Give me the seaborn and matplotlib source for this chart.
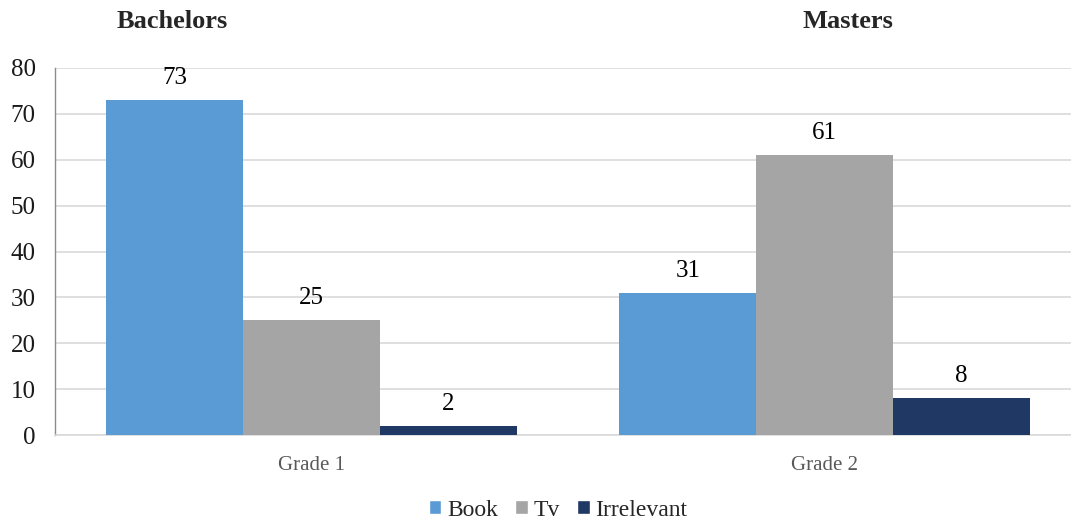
import matplotlib
matplotlib.use("Agg")
import matplotlib.pyplot as plt
from matplotlib.patches import Patch
import pandas as pd
import seaborn as sns

# Survey responses by grade and source
grades = ["Grade 1", "Grade 2"]
sources = ["Book", "Tv", "Irrelevant"]
book = [73, 31]
tv = [25, 61]
irrelevant = [2, 8]
y_ticks = [0, 10, 20, 30, 40, 50, 60, 70, 80]
panel_titles = ["Bachelors", "Masters"]

colors = {"Book": "#5B9BD5", "Tv": "#A5A5A5", "Irrelevant": "#203864"}

df = pd.DataFrame({
    "grade": grades * 3,
    "source": [s for s in sources for _ in grades],
    "value": book + tv + irrelevant,
})

sns.set_theme(style="white")
plt.rcParams["font.family"] = ["Liberation Serif", "DejaVu Serif"]

fig = plt.figure(figsize=(10.71, 5.25), dpi=100)
ax = fig.add_axes([0.0514, 0.1714, 0.9486, 0.6991])

sns.barplot(data=df, x="grade", y="value", hue="source", order=grades,
            hue_order=sources, palette=colors, width=0.8, saturation=1,
            linewidth=0, legend=False, ax=ax, zorder=3)

for container in ax.containers:
    ax.bar_label(container, fmt="%g", padding=8, fontsize=18, color="#000000")

ax.set_xlim(-0.5, 1.48)
ax.set_ylim(0, 80)
ax.set_yticks(y_ticks)
ax.yaxis.grid(True, color="#D9D9D9", linewidth=1.2, zorder=0)
ax.set_axisbelow(True)
ax.set_xlabel("")
ax.set_ylabel("")
for s in ["top", "right"]:
    ax.spines[s].set_visible(False)
ax.spines["left"].set_color("#8C8C8C")
ax.spines["left"].set_linewidth(1.0)
ax.spines["bottom"].set_color("#D9D9D9")
ax.spines["bottom"].set_linewidth(1.2)
ax.tick_params(axis="y", length=0, labelsize=18, labelcolor="#1a1a1a", pad=14)
ax.tick_params(axis="x", length=0, labelsize=15, labelcolor="#595959", pad=15)

fig.text(172 / 1071, 1 - 22 / 525, panel_titles[0], ha="center", va="center",
         fontsize=19, fontweight="bold", color="#262626")
fig.text(848 / 1071, 1 - 22 / 525, panel_titles[1], ha="center", va="center",
         fontsize=19, fontweight="bold", color="#262626")

handles = [Patch(facecolor=colors[s], label=s) for s in sources]
fig.legend(handles=handles, loc="center", bbox_to_anchor=(0.521, 1 - 510 / 525),
           ncol=3, frameon=False, fontsize=17, handlelength=0.55,
           handleheight=0.55, handletextpad=0.25, columnspacing=0.7)

fig.savefig("out.png", dpi=100)
